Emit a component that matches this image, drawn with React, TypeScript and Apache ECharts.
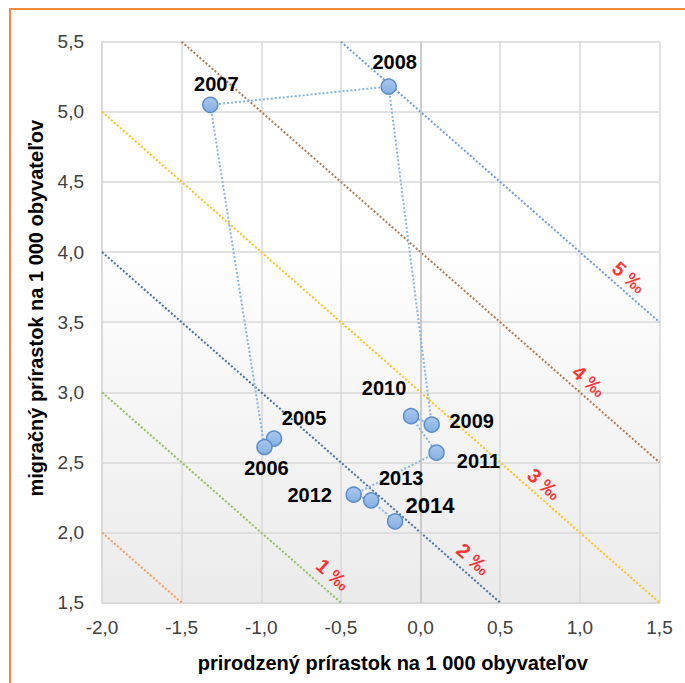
import React, { useEffect, useRef } from "react";
import * as echarts from "echarts";

// ---- data ----
const years = ["2005", "2006", "2007", "2008", "2009", "2010", "2011", "2012", "2013", "2014"];
const naturalIncrease = [-0.92, -0.98, -1.32, -0.2, 0.07, -0.06, 0.1, -0.42, -0.31, -0.16];
const migrationIncrease = [2.67, 2.61, 5.05, 5.18, 2.77, 2.83, 2.57, 2.27, 2.23, 2.08];

// total increase isolines (x + y = sum)
const isoSums = [0, 1, 2, 3, 4, 5];
const isoLabels = ["", "1 ‰", "2 ‰", "3 ‰", "4 ‰", "5 ‰"];
const isoLabelX = [0, -0.55, 0.33, 0.775, 1.057, 1.308];
const isoLabelY = [0, 1.7, 1.81, 2.346, 3.08, 3.82];

const X_MIN = -2, X_MAX = 1.5, Y_MIN = 1.5, Y_MAX = 5.5, STEP = 0.5;

// ---- styles ----
const isoColors = ["#f79a5a", "#8fbf5a", "#4670a0", "#ffc21a", "#b07a4e", "#6f9be0"];
const labelOffsets: Record<string, [number, number]> = {
  "2005": [30, -21],
  "2006": [2, 21],
  "2007": [6, -21],
  "2008": [6, -25],
  "2009": [40, -4],
  "2010": [-27, -28],
  "2011": [42, 8],
  "2012": [-44, 0],
  "2013": [30, -22],
  "2014": [35, -16],
};

const fmt = (v: number) => v.toFixed(1).replace(".", ",");

export default function App() {
  const ref = useRef<HTMLDivElement>(null);
  useEffect(() => {
    if (!ref.current) return;
    const chart = echarts.init(ref.current, undefined, { renderer: "svg" });

    const isoSeries = isoSums.map((s, i) => {
      const x1 = Math.max(X_MIN, s - Y_MAX);
      const x2 = Math.min(X_MAX, s - Y_MIN);
      return {
        type: "line",
        data: [
          [x1, s - x1],
          [x2, s - x2],
        ],
        symbol: "none",
        silent: true,
        z: 2,
        lineStyle: { color: isoColors[i], width: 2, type: [2, 2] },
      };
    });

    const isoLabelData = isoSums
      .map((s, i) => ({ value: [isoLabelX[i], isoLabelY[i]], name: isoLabels[i] }))
      .filter((d) => d.name);

    const option: any = {
      animation: false,
      backgroundColor: "#ffffff",
      grid: {
        left: 102,
        right: 25.5,
        top: 41.7,
        bottom: 80.3,
        show: true,
        borderWidth: 0,
        backgroundColor: new echarts.graphic.LinearGradient(0, 0, 0, 1, [
          { offset: 0, color: "#ffffff" },
          { offset: 0.35, color: "#ffffff" },
          { offset: 1, color: "#ebebeb" },
        ]),
      },
      xAxis: {
        type: "value",
        min: X_MIN,
        max: X_MAX,
        interval: STEP,
        name: "prirodzený prírastok na 1 000 obyvateľov",
        nameLocation: "middle",
        nameGap: 50,
        nameTextStyle: {
          fontFamily: "Liberation Sans, Arial, sans-serif",
          fontWeight: "bold",
          fontSize: 20,
          color: "#000",
          padding: [0, 0, 0, 24],
        },
        axisLine: { show: true, onZero: false, lineStyle: { color: "#d9d9d9", width: 1.5 } },
        axisTick: { show: false },
        splitLine: { show: true, lineStyle: { color: "#d9d9d9", width: 1.5 } },
        axisLabel: {
          formatter: fmt,
          margin: 15,
          fontFamily: "Liberation Sans Narrow, Arial Narrow, sans-serif",
          fontSize: 19,
          color: "#404040",
        },
      },
      yAxis: {
        type: "value",
        min: Y_MIN,
        max: Y_MAX,
        interval: STEP,
        name: "migračný prírastok na 1 000 obyvateľov",
        nameLocation: "middle",
        nameGap: 56,
        nameTextStyle: {
          fontFamily: "Liberation Sans, Arial, sans-serif",
          fontWeight: "bold",
          fontSize: 20,
          color: "#000",
          padding: [0, 0, 0, 28],
        },
        axisLine: { show: true, onZero: false, lineStyle: { color: "#d9d9d9", width: 1.5 } },
        axisTick: { show: false },
        splitLine: { show: true, lineStyle: { color: "#d9d9d9", width: 1.5 } },
        axisLabel: {
          formatter: fmt,
          margin: 18,
          fontFamily: "Liberation Sans Narrow, Arial Narrow, sans-serif",
          fontSize: 19,
          color: "#404040",
        },
      },
      graphic: [
        {
          type: "rect",
          shape: { x: 10, y: 9, width: 700, height: 700 },
          style: { fill: "none", stroke: "#f5883c", lineWidth: 2 },
          silent: true,
          z: 100,
        },
      ],
      series: [
        {
          type: "line",
          data: [],
          silent: true,
          z: 1,
          markLine: {
            silent: true,
            symbol: "none",
            label: { show: false },
            lineStyle: { color: "#c4c4c4", type: "solid", width: 1.5 },
            data: [{ xAxis: 0 }],
          },
        },
        ...isoSeries,
        {
          type: "scatter",
          data: isoLabelData,
          symbolSize: 0,
          silent: true,
          z: 3,
          label: {
            show: true,
            position: "inside",
            formatter: (p: any) => p.name,
            rotate: -41.4,
            color: "#ff0000",
            fontWeight: "bold",
            fontSize: 20,
            fontFamily: "Liberation Sans, Arial, sans-serif",
          },
        },
        {
          type: "line",
          data: years.map((y, i) => ({
            value: [naturalIncrease[i], migrationIncrease[i]],
            name: y,
            label: {
              offset: labelOffsets[y],
              fontSize: y === "2014" ? 22 : 20,
            },
          })),
          z: 5,
          symbol: "circle",
          symbolSize: 15,
          lineStyle: { color: "#86b5e6", width: 2, type: [2, 2] },
          itemStyle: {
            color: new echarts.graphic.LinearGradient(0, 0, 0, 1, [
              { offset: 0, color: "#a9c8ee" },
              { offset: 1, color: "#86afe2" },
            ]),
            borderColor: "#5b8ccb",
            borderWidth: 1.5,
          },
          label: {
            show: true,
            position: "inside",
            formatter: (p: any) => p.name,
            color: "#000",
            fontWeight: "bold",
            fontFamily: "Liberation Sans, Arial, sans-serif",
          },
        },
      ],
    };
    chart.setOption(option);
    return () => chart.dispose();
  }, []);
  return (
    <div
      ref={ref}
      style={{ position: "absolute", left: 0, top: 0, width: 685, height: 683, background: "#fff" }}
    />
  );
}
